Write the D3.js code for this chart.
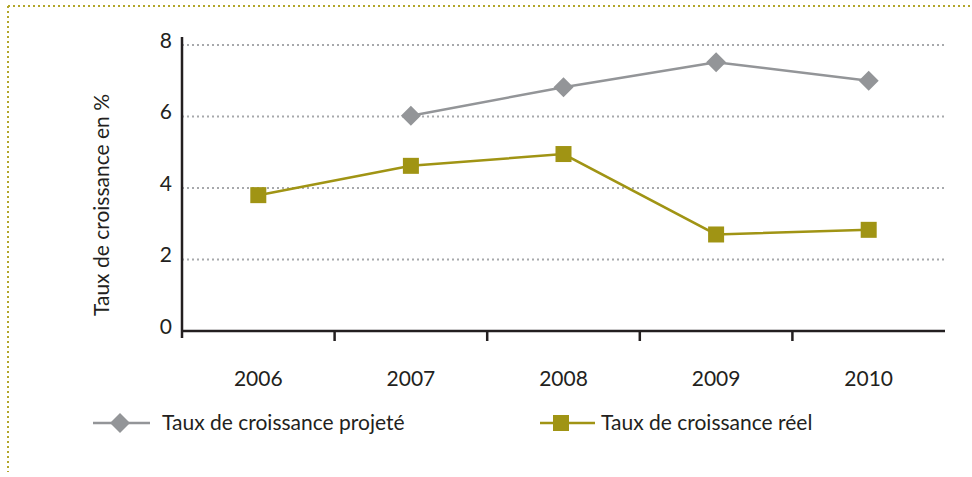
<!DOCTYPE html>
<html>
<head>
<meta charset="utf-8">
<script src="https://cdn.jsdelivr.net/npm/d3@7"></script>
<style>
  body { margin: 0; background: #fff; }
  text { font-family: Lato, "Open Sans", sans-serif; fill: #231f20; }
</style>
</head>
<body>
<div id="chart"></div>
<script>
const years = ['2006', '2007', '2008', '2009', '2010'];
const projete = [null, 6.02, 6.82, 7.52, 7.0];
const reel = [3.8, 4.62, 4.95, 2.7, 2.83];
const yTicks = [0, 2, 4, 6, 8];
const seriesNames = ['Taux de croissance projeté', 'Taux de croissance réel'];

const dims = { width: 972, height: 477 };
const margins = { left: 182, right: 27, top: 45, bottom: 146 };
const grey = '#939598';
const olive = '#a09414';

const svg = d3.select('#chart').append('svg')
  .attr('width', dims.width)
  .attr('height', dims.height);

// dotted frame top + left
svg.append('line')
  .attr('x1', 8).attr('x2', dims.width).attr('y1', 6).attr('y2', 6)
  .attr('stroke', '#b3a62a').attr('stroke-width', 2).attr('stroke-dasharray', '2,3');
svg.append('line')
  .attr('x1', 8).attr('x2', 8).attr('y1', 6).attr('y2', 472)
  .attr('stroke', '#b3a62a').attr('stroke-width', 2).attr('stroke-dasharray', '2,3');

const innerW = dims.width - margins.left - margins.right;
const innerH = dims.height - margins.top - margins.bottom;

const g = svg.append('g')
  .attr('transform', `translate(${margins.left},${margins.top})`);

const xScale = d3.scaleBand().domain(years).range([0, innerW]);
const yScale = d3.scaleLinear().domain([0, 8]).range([innerH, 0]);

// grid
g.selectAll('line.grid')
  .data(yTicks.filter(d => d > 0))
  .join('line')
    .attr('class', 'grid')
    .attr('x1', 0).attr('x2', innerW)
    .attr('y1', d => yScale(d)).attr('y2', d => yScale(d))
    .attr('stroke', '#a7a9ac').attr('stroke-width', 2).attr('stroke-dasharray', '2,3');

// y axis
const yAxis = g.append('g')
  .call(d3.axisLeft(yScale).tickValues(yTicks).tickSize(0).tickPadding(10));
yAxis.select('.domain').remove();
yAxis.selectAll('text').attr('font-size', 21).attr('dy', '0.1em');
g.append('line')
  .attr('x1', 0).attr('x2', 0).attr('y1', -8).attr('y2', innerH + 7)
  .attr('stroke', '#231f20').attr('stroke-width', 2.5);

// x axis
const bounds = years.map(y => xScale(y)).concat([innerW]);
g.append('line')
  .attr('x1', 0).attr('x2', innerW).attr('y1', innerH).attr('y2', innerH)
  .attr('stroke', '#231f20').attr('stroke-width', 2.5);
g.selectAll('line.xtick')
  .data(bounds.slice(1, -1))
  .join('line')
    .attr('class', 'xtick')
    .attr('x1', d => d).attr('x2', d => d)
    .attr('y1', innerH).attr('y2', innerH + 10)
    .attr('stroke', '#231f20').attr('stroke-width', 2.5);
g.selectAll('text.xlab')
  .data(years)
  .join('text')
    .attr('class', 'xlab')
    .attr('x', d => xScale(d) + xScale.bandwidth() / 2)
    .attr('y', innerH + 55)
    .attr('text-anchor', 'middle')
    .attr('font-size', 21)
    .text(d => d);

// y title
svg.append('text')
  .attr('transform', `translate(109, 205) rotate(-90)`)
  .attr('text-anchor', 'middle')
  .attr('font-size', 21)
  .text('Taux de croissance en %');

const cx = i => xScale(years[i]) + xScale.bandwidth() / 2;

const line = d3.line()
  .defined(d => d.v !== null)
  .x(d => cx(d.i))
  .y(d => yScale(d.v));

const projPts = projete.map((v, i) => ({ v, i }));
const reelPts = reel.map((v, i) => ({ v, i }));

g.append('path')
  .datum(projPts)
  .attr('d', line)
  .attr('fill', 'none').attr('stroke', grey).attr('stroke-width', 2.5);
g.append('path')
  .datum(reelPts)
  .attr('d', line)
  .attr('fill', 'none').attr('stroke', olive).attr('stroke-width', 2.5);

const diamond = d3.symbol().type(d3.symbolSquare).size(200);
g.selectAll('path.diam')
  .data(projPts.filter(d => d.v !== null))
  .join('path')
    .attr('class', 'diam')
    .attr('d', diamond)
    .attr('transform', d => `translate(${cx(d.i)},${yScale(d.v)}) rotate(45)`)
    .attr('fill', grey);

g.selectAll('rect.sq')
  .data(reelPts)
  .join('rect')
    .attr('class', 'sq')
    .attr('x', d => cx(d.i) - 8).attr('y', d => yScale(d.v) - 8)
    .attr('width', 16).attr('height', 16)
    .attr('fill', olive);

// legend
const legend = svg.append('g');
const legY = 423;
legend.append('line')
  .attr('x1', 93).attr('x2', 150).attr('y1', legY).attr('y2', legY)
  .attr('stroke', grey).attr('stroke-width', 2.5);
legend.append('path')
  .attr('d', diamond)
  .attr('transform', `translate(120,${legY}) rotate(45)`)
  .attr('fill', grey);
legend.append('text')
  .attr('x', 162).attr('y', legY + 7)
  .attr('font-size', 21)
  .text(seriesNames[0]);

legend.append('line')
  .attr('x1', 540).attr('x2', 595).attr('y1', legY).attr('y2', legY)
  .attr('stroke', olive).attr('stroke-width', 2.5);
legend.append('rect')
  .attr('x', 561 - 8).attr('y', legY - 8).attr('width', 16).attr('height', 16)
  .attr('fill', olive);
legend.append('text')
  .attr('x', 601).attr('y', legY + 7)
  .attr('font-size', 21)
  .text(seriesNames[1]);
</script>
</body>
</html>
